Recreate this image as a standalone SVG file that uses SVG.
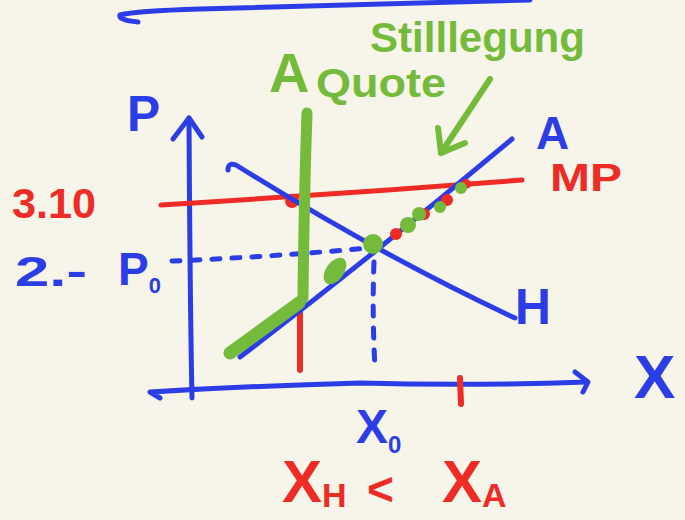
<svg xmlns="http://www.w3.org/2000/svg" width="685" height="520" viewBox="0 0 685 520">
<style>
.b{stroke:#2b3de6;fill:none;stroke-linecap:round;stroke-linejoin:round}
.r{stroke:#ee2b24;fill:none;stroke-linecap:round;stroke-linejoin:round}
.g{stroke:#74bb3b;fill:none;stroke-linecap:round;stroke-linejoin:round}
.t{font-family:"Liberation Sans","DejaVu Sans",sans-serif;font-weight:bold}
.tb{fill:#2b3de6}.tr{fill:#ee2b24}.tg{fill:#74bb3b}
.dr{fill:#ee2b24}.dg{fill:#74bb3b}
</style>
<rect width="685" height="520" fill="#f7f4ea"/>
<g id="topline"><path class="b" stroke-width="5" d="M138,22 Q118,20 120,15 Q135,11 200,9 Q380,4 530,0"/></g>
<g id="axes">
<path class="b" stroke-width="5" d="M192,398 Q190,300 189,118"/>
<path class="b" stroke-width="5" d="M173,139 L189,118 L202,137"/>
<path class="b" stroke-width="5" d="M160,398 L150,392 Q250,386 360,383 Q470,386 587,382"/>
<path class="b" stroke-width="5" d="M575,372 L588,382 L583,392"/>
</g>
<g id="dotted">
<path class="b" stroke-width="5" stroke-dasharray="8 12" d="M172,261 Q270,257 368,248"/>
<path class="b" stroke-width="5" stroke-dasharray="10 12" d="M374,262 Q372,315 375,368"/>
</g>
<g id="price-line">
<path class="r" stroke-width="5" d="M161,205 Q340,194 522,180"/>
<circle class="dr" cx="292" cy="201" r="7"/>
<path class="r" stroke-width="6" d="M300,298 L300,370"/>
<path class="r" stroke-width="6" d="M460,378 L461,404"/>
</g>
<g id="demand">
<path class="b" stroke-width="5" d="M228,170 Q228,162 236,165 Q380,255 515,318"/>
</g>
<g id="supply">
<path class="b" stroke-width="5" d="M240,357 Q380,250 512,139"/>
</g>
<g id="quota">
<path class="g" stroke-width="11" d="M307,113 Q304,200 303,298"/>
<path class="g" stroke-width="13" d="M230,353 L299,303"/>
<ellipse class="dg" cx="335" cy="271" rx="9" ry="15" transform="rotate(35 335 271)"/>
<circle class="dg" cx="373" cy="244" r="10"/>
<circle class="dr" cx="396" cy="234" r="6"/>
<circle class="dg" cx="408" cy="225" r="8"/>
<circle class="dr" cx="424" cy="214" r="6"/>
<circle class="dg" cx="419" cy="214" r="7"/>
<circle class="dr" cx="447" cy="200" r="6"/>
<circle class="dg" cx="440" cy="207" r="6"/>
<circle class="dr" cx="466" cy="184" r="5"/>
<circle class="dg" cx="461" cy="188" r="6"/>
</g>
<g id="arrow-stilllegung">
<path class="g" stroke-width="6" d="M490,79 L441,153"/>
<path class="g" stroke-width="6" d="M438,128 L441,153 L465,143"/>
</g>
<g id="labels">
<text class="t tb" x="127" y="131" font-size="50">P</text>
<text class="t tr" x="12" y="218" font-size="42" textLength="84" lengthAdjust="spacingAndGlyphs">3.10</text>
<text class="t tb" x="15" y="286" font-size="42" textLength="72" lengthAdjust="spacingAndGlyphs">2.-</text>
<text class="t tb" x="118" y="285" font-size="46">P<tspan font-size="22" dy="8">0</tspan></text>
<text class="t tb" x="536" y="149" font-size="46">A</text>
<text class="t tr" x="550" y="191" font-size="38" textLength="72" lengthAdjust="spacingAndGlyphs">MP</text>
<text class="t tb" x="515" y="324" font-size="50">H</text>
<text class="t tb" x="634" y="398" font-size="62">X</text>
<text class="t tb" x="356" y="443" font-size="48">X<tspan font-size="24" dy="10">0</tspan></text>
<text class="t tr" x="282" y="502" font-size="60">X<tspan font-size="34" dy="5">H</tspan></text>
<text class="t tr" x="367" y="505" font-size="46">&lt;</text>
<text class="t tr" x="442" y="502" font-size="60">X<tspan font-size="34" dy="5">A</tspan></text>
<text class="t tg" x="370" y="52" font-size="42" textLength="215" lengthAdjust="spacingAndGlyphs">Stilllegung</text>
<text class="t tg" x="269" y="92" font-size="56">A</text>
<text class="t tg" x="316" y="97" font-size="40" textLength="130" lengthAdjust="spacingAndGlyphs">Quote</text>
</g>
</svg>
